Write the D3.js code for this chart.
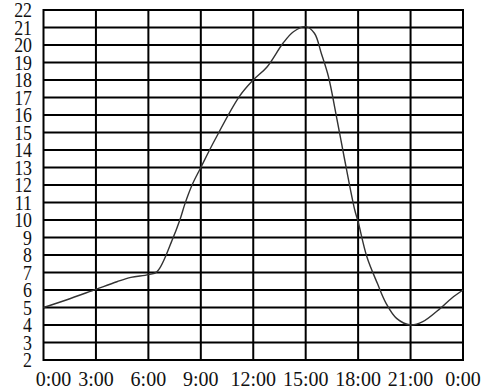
<!DOCTYPE html>
<html>
<head>
<meta charset="utf-8">
<script src="https://cdn.jsdelivr.net/npm/d3@7"></script>
<style>
  body { margin: 0; background: #fff; }
  svg { display: block; }
  .lbl { font-family: "Liberation Serif", "Times New Roman", serif; fill: #111; }
</style>
</head>
<body>
<div id="chart"></div>
<script>
// hours since midnight and the reading at that hour
const hours = [0, 1.3, 3, 4.2, 5, 6, 6.5, 7.4, 7.8, 8.1, 8.5, 9, 9.8, 11.2, 12, 12.8, 13.7, 14.3, 15, 15.5, 15.9, 16.3, 16.8, 17.2, 17.8, 18, 18.5, 19.1, 19.6, 20.2, 21, 21.7, 22.7, 23.35, 24];
const values = [5, 5.43, 6.04, 6.47, 6.72, 6.88, 7.05, 8.95, 10, 10.95, 12, 13, 14.57, 17.05, 18, 18.76, 20.1, 20.76, 21.05, 20.67, 19.5, 18.2, 15.7, 13.6, 10.6, 9.9, 7.9, 6.38, 5.24, 4.38, 4.0, 4.19, 4.95, 5.53, 6];
const xTickLabels = ["0:00", "3:00", "6:00", "9:00", "12:00", "15:00", "18:00", "21:00", "0:00"];
const yTicks = d3.range(2, 23);

const W = 486, H = 392;
const margin = { left: 43.5, right: 23, top: 10, bottom: 32 };

const svg = d3.select("#chart").append("svg")
    .attr("width", W)
    .attr("height", H);

const x = d3.scaleLinear().domain([0, 24]).range([margin.left, W - margin.right]);
const y = d3.scaleLinear().domain([2, 22]).range([H - margin.bottom, margin.top]);

// horizontal grid
svg.append("g")
    .selectAll("line")
    .data(yTicks)
    .enter()
    .append("line")
    .attr("x1", x(0)).attr("x2", x(24))
    .attr("y1", d => y(d)).attr("y2", d => y(d))
    .attr("stroke", "#000")
    .attr("stroke-width", 2);

// vertical grid
const xTicks = d3.range(0, 25, 3);
svg.append("g")
    .selectAll("line")
    .data(xTicks)
    .enter()
    .append("line")
    .attr("x1", d => x(d)).attr("x2", d => x(d))
    .attr("y1", y(22) - 1).attr("y2", y(2) + 1)
    .attr("stroke", "#000")
    .attr("stroke-width", 2);

// y labels (narrow, tall serif digits)
svg.append("g")
    .selectAll("text")
    .data(yTicks)
    .enter()
    .append("text")
    .attr("class", "lbl")
    .attr("transform", d => `translate(32, ${y(d) + 7}) scale(0.85, 1)`)
    .attr("text-anchor", "end")
    .style("font-size", "21px")
    .text(d => d);

// x labels
svg.append("g")
    .selectAll("text")
    .data(xTickLabels)
    .enter()
    .append("text")
    .attr("class", "lbl")
    .attr("x", (d, i) => i === 0 ? x(0) + 10 : x(xTicks[i]))
    .attr("y", 386)
    .attr("text-anchor", "middle")
    .style("font-size", "20px")
    .text(d => d);

// the curve
const line = d3.line()
    .x((d, i) => x(hours[i]))
    .y(d => y(d))
    .curve(d3.curveCatmullRom.alpha(0.5));

svg.append("path")
    .datum(values)
    .attr("d", line)
    .attr("fill", "none")
    .attr("stroke", "#333")
    .attr("stroke-width", 1.4);
</script>
</body>
</html>
